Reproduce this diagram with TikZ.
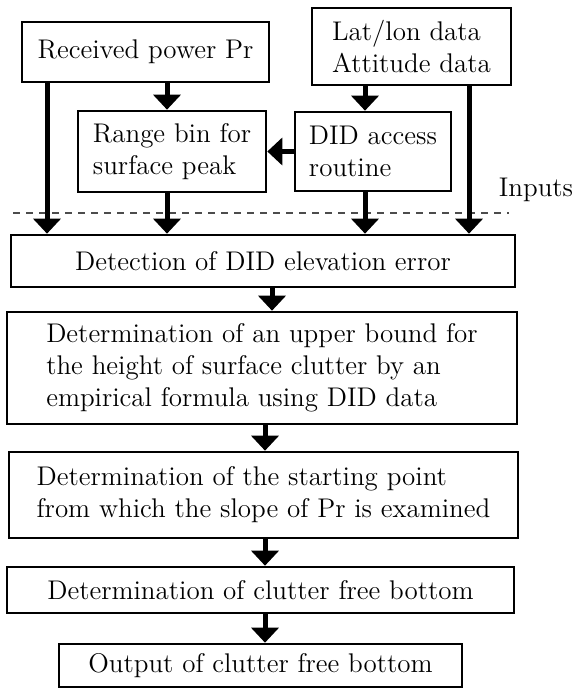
\documentclass[tikz,border=0pt]{standalone}
\usepackage{tikz}
\usetikzlibrary{arrows.meta}
\usetikzlibrary{positioning}
\tikzset{box/.style={draw, line width=1.3pt, inner sep=0pt, align=left, font=\fontsize{13.5}{16}\selectfont}}
\tikzset{arr/.style={line width=2.5pt, -{Triangle[width=13.5pt,length=7.5pt]}}}
\tikzset{dashline/.style={draw=black!70, line width=0.6pt, dash pattern=on 3.5pt off 3pt}}

\begin{document}
\begin{tikzpicture}[x=0.5pt,y=-0.5pt]
\useasboundingbox (0,0) rectangle (576,688);
% inputs
\node[box, minimum width=123.5pt, minimum height=30pt] (recv) at (145.5,52) {Received power Pr};
\node[box, minimum width=99.5pt, minimum height=38.5pt] (latlon) at (411.5,46.5) {Lat/lon data\\Attitude data};
\node[box, minimum width=94pt, minimum height=40.5pt] (range) at (172,151.5) {Range bin for\\surface peak};
\node[box, minimum width=78pt, minimum height=39.5pt] (did) at (373,151.5) {DID access\\routine};
\node[font=\fontsize{13.5}{16}\selectfont] (inp) at (536,190) {Inputs};
% processing steps
\node[box, minimum width=252pt, minimum height=26pt] (detect) at (263,261) {Detection of DID elevation error};
\node[box, minimum width=255pt, minimum height=56pt] (upper) at (262,368) {Determination of an upper bound for\\the height of surface clutter by an\\empirical formula using DID data};
\node[box, minimum width=254.5pt, minimum height=43pt] (start) at (263.5,495) {Determination of the starting point\\from which the slope of Pr is examined};
\node[box, minimum width=253.5pt, minimum height=23pt] (clutter) at (260.5,590) {Determination of clutter free bottom};
\node[box, minimum width=201.5pt, minimum height=21.5pt] (output) at (260.5,665.5) {Output of clutter free bottom};
% columns of the arrows
\coordinate (col1) at (47,0);
\coordinate (col2) at (167,0);
\coordinate (col4) at (365,0);
\coordinate (col5) at (469,0);
\coordinate (col6) at (265,0);
\coordinate (dl) at (13,213);
\coordinate (dr) at (509,213);
\draw[dashline] (dl) -- (dr);
\draw[arr] (col2 |- recv.south) -- (col2 |- range.north);
\draw[arr] (col4 |- latlon.south) -- (col4 |- did.north);
\draw[arr] (did.west) -- (range.east);
\draw[arr] (col1 |- recv.south) -- (col1 |- detect.north);
\draw[arr] (col2 |- range.south) -- (col2 |- detect.north);
\draw[arr] (col4 |- did.south) -- (col4 |- detect.north);
\draw[arr] (col5 |- latlon.south) -- (col5 |- detect.north);
\draw[arr] ([xshift=3.5pt]col6 |- detect.south) -- ([xshift=3.5pt]col6 |- upper.north);
\foreach \a/\b in {upper/start, start/clutter, clutter/output}
  \draw[arr] (col6 |- \a.south) -- (col6 |- \b.north);
\end{tikzpicture}
\end{document}
